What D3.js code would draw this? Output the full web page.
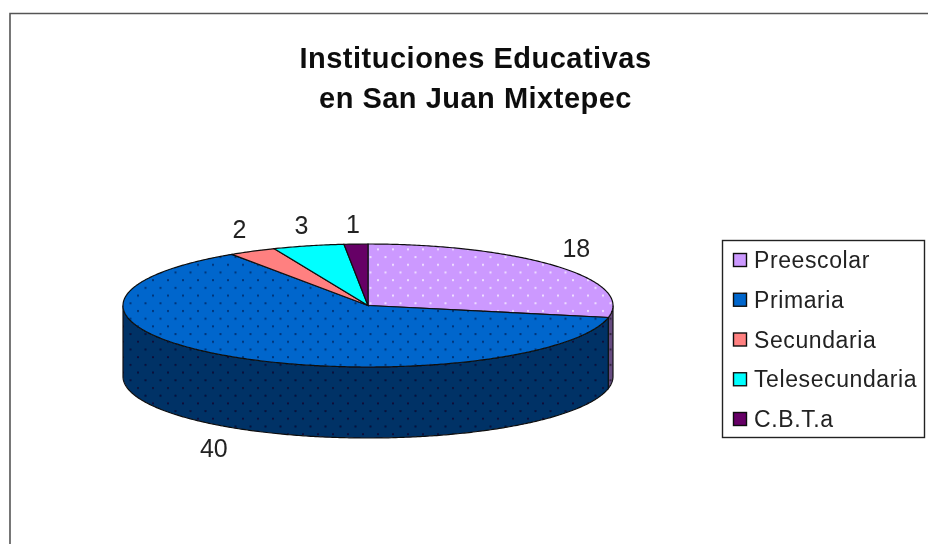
<!DOCTYPE html>
<html>
<head>
<meta charset="utf-8">
<script src="https://cdn.jsdelivr.net/npm/d3@7"></script>
<style>
  html, body { margin: 0; padding: 0; background: #fff; }
  svg { display: block; }
  text { font-family: "Liberation Sans", Arial, sans-serif; fill: #222; }
</style>
</head>
<body>
<div id="chart"></div>
<script>
// DATA ===========================================================================================
const titleLines = ['Instituciones Educativas', 'en San Juan Mixtepec']
const categories = ['Preescolar', 'Primaria', 'Secundaria', 'Telesecundaria', 'C.B.T.a']
const values = [18, 40, 2, 3, 1]
const topColors = ['#cc99ff', '#0066cc', '#ff8080', '#00ffff', '#660066']
const sideColors = ['#664c80', '#003366', '#804040', '#008080', '#330033']
const dotColors = ['#eeddff', '#00357a', '#ff8080', '#00ffff', '#660066']
const sideDotColors = ['#332640', '#0a0f3a', '#402020', '#004040', '#1a001a']

// SET UP =========================================================================================
const width = 928
const height = 544
const cx = 368
const cy = 305.5
const rx = 245
const ry = 61.5
const depth = 71

const svg = d3.select('#chart')
  .append('svg')
  .attr('width', width)
  .attr('height', height)

const defs = svg.append('defs')

defs.append('filter')
  .attr('id', 'soft')
  .append('feGaussianBlur')
  .attr('stdDeviation', 0.45)

function addDots(id, bg, dot) {
  const p = defs.append('pattern')
    .attr('id', id)
    .attr('patternUnits', 'userSpaceOnUse')
    .attr('width', 15)
    .attr('height', 15.4)
  p.append('rect').attr('width', 15).attr('height', 15.4).attr('fill', bg)
  p.append('rect').attr('x', 2).attr('y', 2).attr('width', 2).attr('height', 2).attr('fill', dot)
  p.append('rect').attr('x', 9.5).attr('y', 9.7).attr('width', 2).attr('height', 2).attr('fill', dot)
}
categories.forEach((c, i) => {
  addDots(`top${i}`, topColors[i], dotColors[i])
  addDots(`side${i}`, sideColors[i], sideDotColors[i])
})

const root = svg.append('g').attr('filter', 'url(#soft)')

// FRAME ==========================================================================================
root.append('path')
  .attr('d', `M10,${height} V13.5 H${width}`)
  .attr('fill', 'none')
  .attr('stroke', '#555')
  .attr('stroke-width', 1.6)

// TITLE ==========================================================================================
root.selectAll('.title')
  .data(titleLines)
  .join('text')
    .attr('class', 'title')
    .attr('x', 475.5)
    .attr('y', (d, i) => 68 + i * 40)
    .attr('text-anchor', 'middle')
    .attr('font-size', 29)
    .attr('font-weight', 'bold')
    .attr('letter-spacing', 0.5)
    .style('fill', '#111')
    .text(d => d)

// PIE ============================================================================================
const pie = d3.pie().sort(null).value(d => d)
const slices = pie(values)

const ellipsePoint = (a, dy = 0) => [cx + rx * Math.sin(a), cy - ry * Math.cos(a) + dy]

// walls: only the front half of the rim shows (from 90 to 270 degrees, clockwise from the top)
const line = d3.line()
const wallFrom = Math.PI / 2
const wallTo = Math.PI * 1.5

slices.forEach((s, i) => {
  const a0 = Math.max(s.startAngle, wallFrom)
  const a1 = Math.min(s.endAngle, wallTo)
  if (a1 <= a0) return
  const angles = d3.range(a0, a1, 0.01).concat(a1)
  const upper = angles.map(a => ellipsePoint(a))
  const lower = angles.slice().reverse().map(a => ellipsePoint(a, depth))
  root.append('path')
    .attr('d', line(upper.concat(lower)) + 'Z')
    .attr('fill', `url(#side${i})`)
    .attr('stroke', '#111')
    .attr('stroke-width', 1.2)
})

const arc = d3.arc().innerRadius(0).outerRadius(rx)

// arc() draws a circle, squash it to the ellipse of the tilted disc
root.append('g')
  .attr('transform', `translate(${cx},${cy}) scale(1,${ry / rx})`)
  .selectAll('path')
  .data(slices)
  .join('path')
    .attr('d', arc)
    .attr('fill', (d, i) => topColors[i])

// dots over the squashed slices, drawn unscaled so they stay square
root.append('g')
  .selectAll('path')
  .data(slices)
  .join('path')
    .attr('d', d => {
      const angles = d3.range(d.startAngle, d.endAngle, 0.01).concat(d.endAngle)
      return line([[cx, cy]].concat(angles.map(a => ellipsePoint(a)))) + 'Z'
    })
    .attr('fill', (d, i) => `url(#top${i})`)
    .attr('stroke', '#111')
    .attr('stroke-width', 1.2)

// VALUE LABELS ===================================================================================
const labelNudge = [[19, -9], [-18, 100], [-13, -13], [-7, -12], [-3, -11]]

root.selectAll('.value')
  .data(slices)
  .join('text')
    .attr('class', 'value')
    .attr('x', (d, i) => ellipsePoint((d.startAngle + d.endAngle) / 2)[0] + labelNudge[i][0])
    .attr('y', (d, i) => ellipsePoint((d.startAngle + d.endAngle) / 2)[1] + labelNudge[i][1])
    .attr('text-anchor', 'middle')
    .attr('font-size', 25)
    .text(d => d.value)

// LEGEND =========================================================================================
const legend = root.append('g')

legend.append('rect')
  .attr('x', 722.5)
  .attr('y', 240.5)
  .attr('width', 202)
  .attr('height', 197)
  .attr('fill', '#fff')
  .attr('stroke', '#222')
  .attr('stroke-width', 1.4)

const legendY = d3.scalePoint()
  .domain(categories)
  .range([260, 419])

const legendRow = legend.selectAll('.row')
  .data(categories)
  .join('g')
    .attr('class', 'row')
    .attr('transform', d => `translate(0, ${legendY(d)})`)

legendRow.append('rect')
  .attr('x', 733.5)
  .attr('y', -6.5)
  .attr('width', 13)
  .attr('height', 13)
  .attr('fill', (d, i) => topColors[i])
  .attr('stroke', '#111')
  .attr('stroke-width', 1.4)

legendRow.append('text')
  .attr('x', 754)
  .attr('y', 8)
  .attr('font-size', 23)
  .attr('letter-spacing', 0.6)
  .text(d => d)
</script>
</body>
</html>
